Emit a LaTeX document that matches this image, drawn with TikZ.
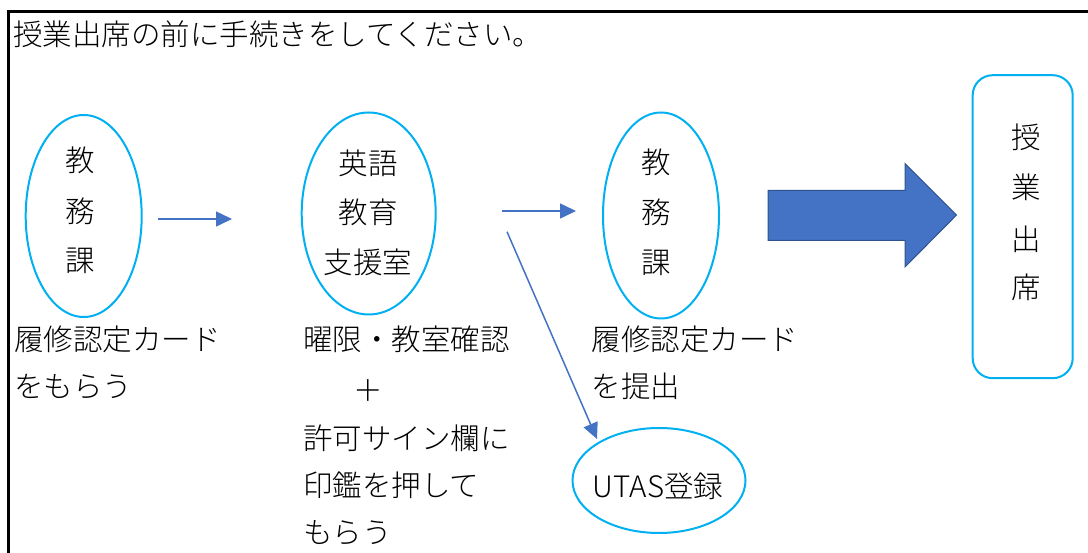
\documentclass[tikz,border=0pt]{standalone}
\usepackage{fontspec}
\setmainfont{Noto Sans CJK JP}[UprightFont=* Light]
\usetikzlibrary{shapes.geometric,arrows.meta}
\definecolor{cyanline}{HTML}{00B0F0}
\definecolor{arrowblue}{HTML}{4472C4}
\definecolor{arrowedge}{HTML}{2F528F}
\begin{document}
\begin{tikzpicture}[x=1pt,y=-1pt,
  jp/.style={font=\fontsize{29.5}{49}\selectfont, text=black, inner sep=0pt, text height=0.88em, text depth=0.12em, yshift=-6.5pt},
  oval/.style={ellipse, draw=cyanline, line width=2pt, inner sep=0pt},
  thinarrow/.style={draw=arrowblue, line width=1.5pt, -{Triangle[length=16pt,width=15pt]}},
  bigarrow/.style={fill=arrowblue, draw=arrowedge, line width=1pt},
  framebox/.style={draw=cyanline, line width=2pt, rounded corners=20pt}
]
\useasboundingbox (0,0) rectangle (1088,553);
% frame
\draw[line width=2.5pt] (1088,11.5) -- (8.5,11.5) -- (8.5,553);
% title
\node[jp, anchor=west] (title) at (13,35.5) {授業出席の前に手続きをしてください。};

% ellipse 1
\node[oval, minimum width=116pt, minimum height=202pt] (e1) at (83.7,216) {};
\node[jp] (e1a) at (80,161.7) {教};
\node[jp] (e1b) at (80,212) {務};
\node[jp] (e1c) at (80,261.7) {課};

% ellipse 2
\node[oval, minimum width=134pt, minimum height=202pt] (e2) at (368.7,213.5) {};
\node[jp] (e2a) at (368,164) {英語};
\node[jp] (e2b) at (368,213) {教育};
\node[jp] (e2c) at (368,263) {支援室};

% ellipse 3
\node[oval, minimum width=116pt, minimum height=206pt] (e3) at (661,215.5) {};
\node[jp] (e3a) at (656.7,163) {教};
\node[jp] (e3b) at (656.7,213) {務};
\node[jp] (e3c) at (656.7,263) {課};

% UTAS ellipse
\node[oval, minimum width=173pt, minimum height=105pt] (utas) at (659,480.5) {};
\node[jp] (utast) at (658,487) {UTAS登録};

% class box
\node[framebox, minimum width=100pt, minimum height=303pt] (jugyo) at (1022.7,226.7) {};
\node[jp] (j1) at (1026.7,138) {授};
\node[jp] (j2) at (1026.7,188) {業};
\node[jp] (j3) at (1026.7,240) {出};
\node[jp] (j4) at (1026.7,288) {席};

% labels
\node[jp, anchor=west] (l1a) at (14,340) {履修認定カード};
\node[jp, anchor=west] (l1b) at (14,387) {をもらう};
\node[jp, anchor=west] (l2a) at (303,340) {曜限・教室確認};
\node[jp] (l2plus) at (368,391) {＋};
\node[jp, anchor=west] (l2b) at (303,439) {許可サイン欄に};
\node[jp, anchor=west] (l2c) at (303,486) {印鑑を押して};
\node[jp, anchor=west] (l2d) at (303,533) {もらう};
\node[jp, anchor=west] (l3a) at (591.7,340) {履修認定カード};
\node[jp, anchor=west] (l3b) at (591.7,387) {を提出};

% thin arrows
\coordinate (a1s) at (158,219);
\coordinate (a1e) at (232,219);
\coordinate (a2s) at (501.7,211);
\coordinate (a2e) at (576,211);
\coordinate (a3s) at (507,231.7);
\coordinate (a3e) at (597,439);
\draw[thinarrow] (a1s) -- (a1e);
\draw[thinarrow] (a2s) -- (a2e);
\draw[thinarrow] (a3s) -- (a3e);

% big arrow
\draw[bigarrow] (768,190.5) -- (905,190.5) -- (905,163.5) -- (956.5,215) -- (905,267) -- (905,240.5) -- (768,240.5) -- cycle;
\end{tikzpicture}
\end{document}
